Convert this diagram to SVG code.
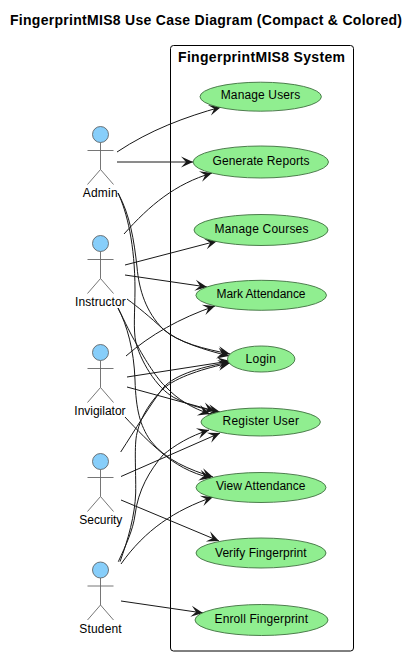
<svg xmlns="http://www.w3.org/2000/svg" width="420" height="656" viewBox="0 0 420 656">
<style>
text{font-family:"Liberation Sans",Arial,sans-serif;fill:#000}
.t{font-size:14px;font-weight:bold}
.u{font-size:12px}
.a{font-size:12px}
ellipse{fill:#90EE90;stroke:#3f6f3f;stroke-width:.9}
.h{fill:#87CEFA;stroke:#555;stroke-width:.8}
.b{fill:none;stroke:#666;stroke-width:.9}
#connectors path{fill:none;stroke:#181818;stroke-width:1;marker-end:url(#arr)}
</style>
<defs>
<marker id="arr" markerUnits="userSpaceOnUse" viewBox="-13 -7 14 14" refX="0" refY="0" markerWidth="14" markerHeight="14" orient="auto">
<path d="M0,0L-12,-5.500L-7,0L-12,5.500Z" fill="#181818"/>
</marker>
<g id="actor"><circle class="h" cx="0" cy="0" r="8"/><path class="b" d="M0,8V35M-13,16H13M-13,50L0,35L13,50"/></g>
</defs>
<rect width="420" height="656" fill="#fff"/>
<text class="t" x="10" y="25" textLength="392">FingerprintMIS8 Use Case Diagram (Compact &amp; Colored)</text>
<g id="system"><rect x="170.500" y="45.500" width="183" height="605.500" rx="3" fill="none" stroke="#000" stroke-width="1"/>
<text class="t" x="178" y="62" textLength="167">FingerprintMIS8 System</text></g>
<g id="connectors">
<path d="M117,152C150,130 185,117 221,107"/>
<path d="M117,162H193"/>
<path d="M124,234C150,205 175,184 212,173"/>
<path d="M125,265L217,241"/>
<path d="M125,275L207,287"/>
<path d="M118,193C130,215 134,240 137,267C139,290 146,312 163,329C178,343 205,349 230,354"/>
<path d="M118,193C127,212 135,245 135,290C135,310 133,330 136,343C142,365 160,392 177,399C190,406 205,409 220,412"/>
<path d="M127,299C138,307 150,317 163,329C178,342 205,350 229,356"/>
<path d="M118,308C125,322 132,337 136,343C145,360 158,380 165,386C178,400 192,408 210,414"/>
<path d="M118,308C127,325 134,350 135,380C136,410 140,425 150,440C165,460 190,470 213,477"/>
<path d="M126,356C150,335 180,318 215,306"/>
<path d="M127,377L230,361"/>
<path d="M127,387L215,411"/>
<path d="M125,417C137,430 150,443 162,453C175,464 190,473 211,478"/>
<path d="M120.700,452C135,430 150,405 163,388C175,374 205,366 231,362"/>
<path d="M121,476.500L220,433"/>
<path d="M121,500L219,541"/>
<path d="M120,561.700C128,540 135,515 135.700,493C136,470 134,445 137,433C141,415 152,400 163,389C176,377 205,368 230,363"/>
<path d="M118.300,561.700C126,545 133,530 135,515C138,490 150,470 163,455C175,445 190,436 209,430"/>
<path d="M121,564C145,530 175,510 213,497"/>
<path d="M121,601L203,613"/>
</g>
<g id="uc1"><ellipse cx="260.700" cy="96.700" rx="60.700" ry="14.500"/><text class="u" x="220.700" y="99" textLength="79.500">Manage Users</text></g>
<g id="uc2"><ellipse cx="260.800" cy="162" rx="67.700" ry="16"/><text class="u" x="212.500" y="165" textLength="97">Generate Reports</text></g>
<g id="uc3"><ellipse cx="261" cy="230" rx="67" ry="15.500"/><text class="u" x="214.500" y="232.500" textLength="94">Manage Courses</text></g>
<g id="uc4"><ellipse cx="261.200" cy="295.300" rx="65.300" ry="15"/><text class="u" x="216.500" y="298" textLength="89">Mark Attendance</text></g>
<g id="uc5"><ellipse cx="261.200" cy="359" rx="33.700" ry="13"/><text class="u" x="245.500" y="362.500" textLength="30.500">Login</text></g>
<g id="uc6"><ellipse cx="260.700" cy="422" rx="59.700" ry="14"/><text class="u" x="222.500" y="425" textLength="76.500">Register User</text></g>
<g id="uc7"><ellipse cx="261" cy="487.500" rx="65" ry="15"/><text class="u" x="216" y="490" textLength="89.500">View Attendance</text></g>
<g id="uc8"><ellipse cx="261" cy="553" rx="65" ry="15"/><text class="u" x="215" y="556.500" textLength="91.500">Verify Fingerprint</text></g>
<g id="uc9"><ellipse cx="261.500" cy="620" rx="66.500" ry="15.500"/><text class="u" x="214.500" y="622.500" textLength="93.500">Enroll Fingerprint</text></g>
<g id="admin"><use href="#actor" x="100.500" y="134.500"/><text class="a" x="82.700" y="197" textLength="35">Admin</text></g>
<g id="instructor"><use href="#actor" x="100.500" y="243.500"/><text class="a" x="75" y="306" textLength="50.700">Instructor</text></g>
<g id="invigilator"><use href="#actor" x="100.500" y="352.500"/><text class="a" x="74.300" y="415" textLength="51.300">Invigilator</text></g>
<g id="security"><use href="#actor" x="100.500" y="461.500"/><text class="a" x="79.300" y="524" textLength="43">Security</text></g>
<g id="student"><use href="#actor" x="100.500" y="570"/><text class="a" x="79.300" y="633" textLength="42.400">Student</text></g>
</svg>
